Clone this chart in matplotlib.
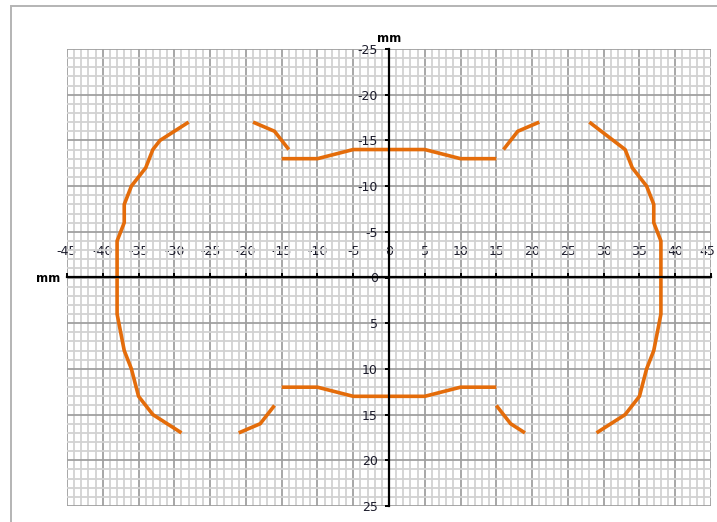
import numpy as np
import matplotlib
matplotlib.use("Agg")
import matplotlib.pyplot as plt
import matplotlib.transforms as mtransforms
from matplotlib.patches import Rectangle

plt.rcParams['axes.unicode_minus'] = False

# outline traces (mm), y axis runs downward
outer_left_x = [-28, -32, -33, -34, -36, -37, -37, -38, -38, -37, -36, -35, -33, -29]
outer_left_y = [-17, -15, -14, -12, -10, -8, -6, -4, 4, 8, 10, 13, 15, 17]
outer_right_x = [28, 33, 34, 36, 37, 37, 38, 38, 37, 36, 35, 33, 29]
outer_right_y = [-17, -14, -12, -10, -8, -6, -4, 4, 8, 10, 13, 15, 17]

arc_ul_x = [-19, -16, -14]
arc_ul_y = [-17, -16, -14]
arc_ur_x = [16, 18, 21]
arc_ur_y = [-14, -16, -17]
arc_ll_x = [-16, -18, -21]
arc_ll_y = [14, 16, 17]
arc_lr_x = [15, 17, 19]
arc_lr_y = [14, 16, 17]

top_x = [-15, -10, -5, 5, 10, 15]
top_y = [-13, -13, -14, -14, -13, -13]
bottom_x = [-15, -10, -5, 5, 10, 15]
bottom_y = [12, 12, 13, 13, 12, 12]

orange = '#E46C0A'
txt = '#1c1c2c'

fig = plt.figure(figsize=(7.17, 5.22), dpi=100)
fig.add_artist(Rectangle((11/717, -0.05), 1.0, 1 - 6/522 + 0.05, transform=fig.transFigure,
                         fill=False, edgecolor='#b4b4b4', lw=1.4))
ax = fig.add_axes([67/717, 1 - 506/522, (711-67)/717, (506-49)/522])

series = [(outer_left_x, outer_left_y), (outer_right_x, outer_right_y),
          (arc_ul_x, arc_ul_y), (arc_ur_x, arc_ur_y),
          (arc_ll_x, arc_ll_y), (arc_lr_x, arc_lr_y),
          (top_x, top_y), (bottom_x, bottom_y)]
for xs, ys in series:
    ax.plot(xs, ys, color=orange, lw=2.6, solid_capstyle='butt', zorder=3)

ax.set_xlim(-45, 45)
ax.set_ylim(25, -25)
ax.set_xticks(np.arange(-45, 46, 5))
ax.set_yticks(np.arange(-25, 26, 5))
ax.set_xticks(np.arange(-45, 46, 1), minor=True)
ax.set_yticks(np.arange(-25, 26, 1), minor=True)
ax.grid(which='minor', color='#d2d2d2', lw=1.3, zorder=0)
ax.grid(which='major', color='#a0a0a0', lw=1.3, zorder=0)
ax.set_axisbelow(True)

ax.spines['top'].set_position(('data', 0))
ax.spines['left'].set_position(('data', 0))
ax.spines['bottom'].set_visible(False)
ax.spines['right'].set_visible(False)
for s in ('top', 'left'):
    ax.spines[s].set_linewidth(1.6)
    ax.spines[s].set_zorder(4)
ax.xaxis.set_ticks_position('top')
ax.yaxis.set_ticks_position('left')
ax.tick_params(which='minor', length=0)
ax.tick_params(axis='x', which='major', direction='out', length=3, width=1.4, pad=11,
               labelsize=9, labelcolor=txt)
ax.tick_params(axis='y', which='major', direction='out', length=3, width=1.4, pad=5,
               labelsize=9, labelcolor=txt)

# last x label sits at the picture edge, nudge it in a little
last = ax.get_xticklabels()[-1]
last.set_transform(last.get_transform() + mtransforms.ScaledTranslation(-4/100, 0, fig.dpi_scale_trans))

fig.text(389/717, 1 - 39/522, 'mm', ha='center', va='center', fontsize=8.5,
         fontweight='bold', color='black')
fig.text(48/717, 1 - 279/522, 'mm', ha='center', va='center', fontsize=8.5,
         fontweight='bold', color='black')

fig.savefig('out.png', dpi=100)
